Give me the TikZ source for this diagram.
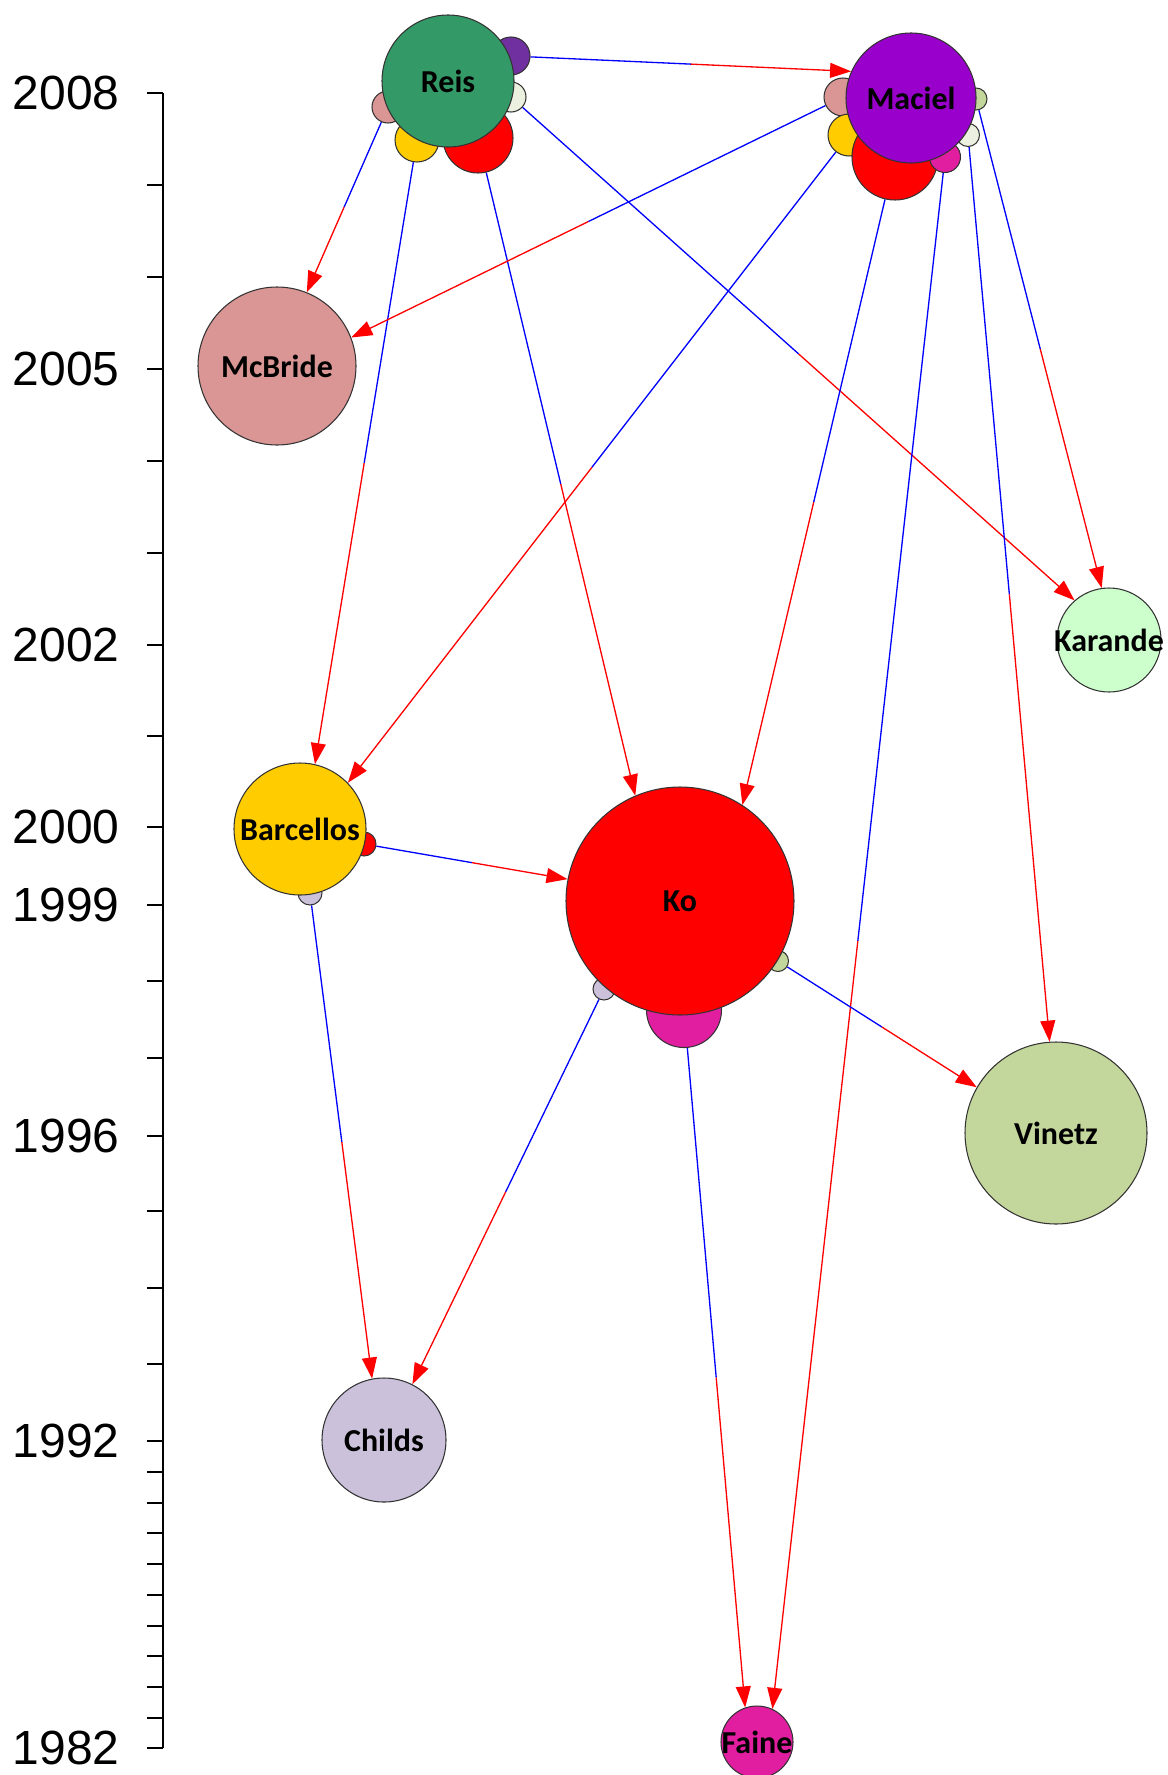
\documentclass[tikz,border=0pt]{standalone}
\usepackage{fontspec}
\setmainfont{Carlito}
\newfontfamily\axisfont{Liberation Sans}
\usetikzlibrary{arrows.meta,backgrounds}
\definecolor{reis}{RGB}{51,153,102}
\definecolor{maciel}{RGB}{153,0,204}
\definecolor{mcbride}{RGB}{217,150,148}
\definecolor{barcellos}{RGB}{255,204,0}
\definecolor{ko}{RGB}{255,0,0}
\definecolor{karande}{RGB}{204,255,204}
\definecolor{vinetz}{RGB}{195,214,155}
\definecolor{childs}{RGB}{204,193,218}
\definecolor{faine}{RGB}{225,30,160}
\definecolor{violet}{RGB}{112,48,160}
\definecolor{ivory}{RGB}{235,241,222}

\begin{document}
\begin{tikzpicture}[x=0.02cm, y=-0.02cm,
  pub/.style={circle, draw=black!80, line width=0.6pt, inner sep=0pt, minimum size=#1*0.02cm},
  every label/.style={font=\bfseries\fontsize{18.2}{20}\selectfont, inner sep=0pt},
  cold/.style={blue, line width=0.75pt},
  hot/.style={red, line width=0.75pt, -{Triangle[length=12pt,width=8.5pt]}},
  year/.style={font=\axisfont\fontsize{27.3}{30}\selectfont, anchor=east, inner sep=0pt}]
  \useasboundingbox (0,0) rectangle (1168,1775);

  \draw[line width=0.6pt] (163,93) -- (163,1748);
  \foreach \y in {93,185,277,369,461,553,645,736,827,905,981,1058,1136,1211,1288,1364,
                  1441,1472,1503,1533,1564,1595,1626,1656,1687,1718,1748}
    \draw[line width=0.6pt] (147,\y) -- (163,\y);
  \foreach \y/\yr in {93/2008,369/2005,645/2002,827/2000,905/1999,1136/1996,1441/1992,1748/1982}
    \node[year] (y\yr) at (120,\y) {\yr};

  \node[pub=38, fill=violet] (rMa) at (511,56) {};
  \node[pub=30, fill=ivory] (rKa) at (511,97) {};
  \node[pub=32, fill=mcbride] (rMc) at (388,107) {};
  \node[pub=44, fill=barcellos] (rBa) at (417,140) {};
  \node[pub=70, fill=ko] (rKo) at (478,138) {};
  \node[pub=132, fill=reis, label=center:Reis] (Reis) at (448,81) {};

  \node[pub=38, fill=mcbride] (mMc) at (843,97) {};
  \node[pub=42, fill=barcellos] (mBa) at (849,135) {};
  \node[pub=86, fill=ko] (mKo) at (895,157) {};
  \node[pub=31, fill=faine] (mFa) at (945,157) {};
  \node[pub=23, fill=ivory] (mVi) at (968,135) {};
  \node[pub=22, fill=vinetz] (mKa) at (976,99) {};
  \node[pub=130, fill=maciel, label=center:Maciel] (Maciel) at (911,98) {};

  \node[pub=158, fill=mcbride, label=center:McBride] (McBride) at (277,366) {};
  \node[pub=104, fill=karande, label=center:Karande] (Karande) at (1109,640) {};

  \node[pub=24, fill=ko] (bKo) at (364,844) {};
  \node[pub=24, fill=childs] (bCh) at (310,893) {};
  \node[pub=132, fill=barcellos, label=center:Barcellos] (Barcellos) at (300,829) {};

  \node[pub=21, fill=vinetz] (kVi) at (778,961) {};
  \node[pub=22, fill=childs] (kCh) at (604,989) {};
  \node[pub=75, fill=faine] (kFa) at (684,1010) {};
  \node[pub=228, fill=ko, label=center:Ko] (Ko) at (680,901) {};

  \node[pub=182, fill=vinetz, label=center:Vinetz] (Vinetz) at (1056,1133) {};
  \node[pub=124, fill=childs, label=center:Childs] (Childs) at (384,1440) {};
  \node[pub=72, fill=faine, label=center:Faine] (Faine) at (757,1742) {};

  \begin{scope}[on background layer]
    \foreach \src/\dst in {rMa/Maciel.156, rKa/Karande.131, rMc/McBride.68, rBa/Barcellos.77,
        rKo/Ko.113, mMc/McBride.21, mBa/Barcellos.44, mKo/Ko.57, mFa/Faine.65, mVi/Vinetz.94,
        mKa/Karande.98, bKo/Ko.169, bCh/Childs.101, kCh/Childs.63, kVi/Vinetz.150, kFa/Faine.109} {
      \path (\src) -- (\dst) coordinate[pos=.5] (mid);
      \draw[cold] (\src) -- (mid);
      \draw[hot] (mid) -- (\dst);
    }
  \end{scope}
\end{tikzpicture}
\end{document}
